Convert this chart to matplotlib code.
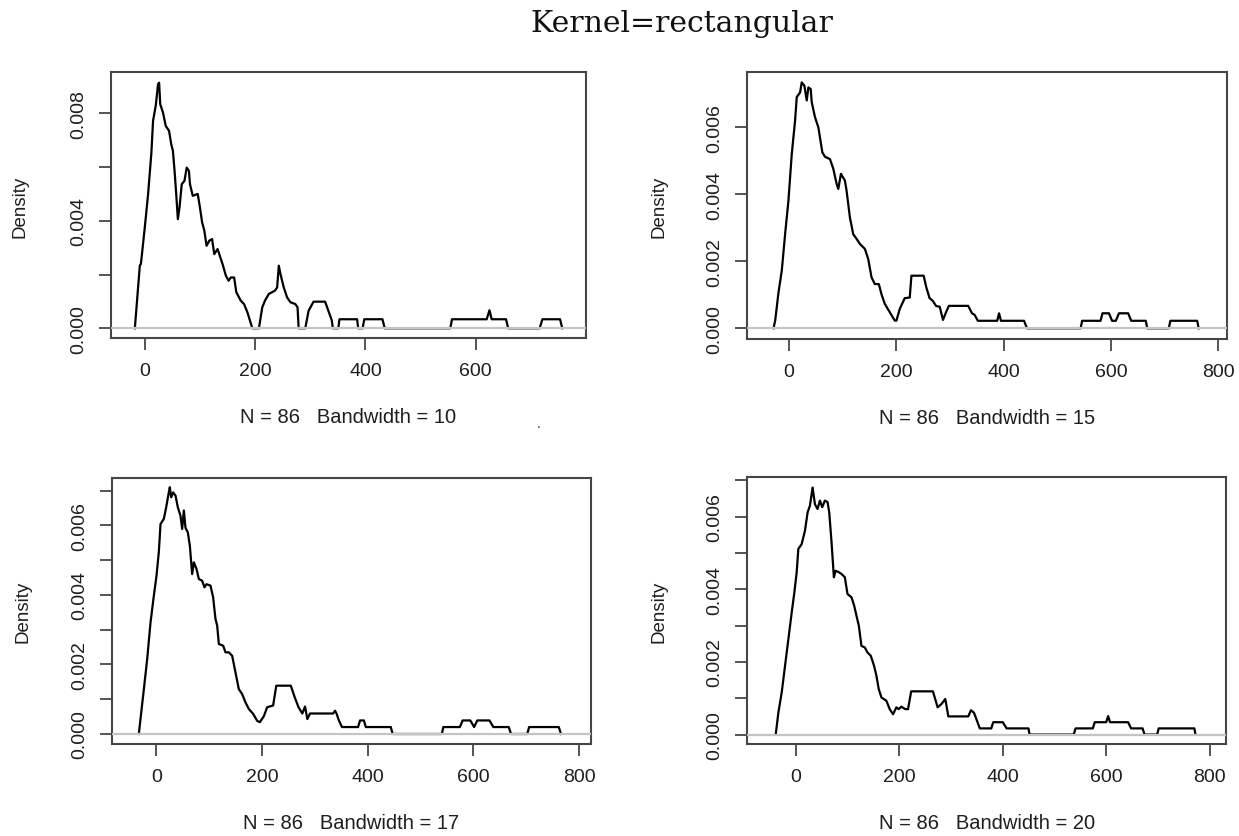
import matplotlib
matplotlib.use('Agg')
import matplotlib.pyplot as plt
import numpy as np

# --- data (x, density * 1000) ---
bandwidths = [10, 15, 17, 20]
n_obs = 86

x_bw10 = [-18, -9, -7, 0, 6, 12, 15, 20, 24, 26, 28, 33, 38, 44, 48, 51, 54, 57, 60, 63,
          67, 72, 76, 80, 82, 87, 96, 100, 104, 108, 112, 117, 122, 126, 132, 136, 141, 147, 152, 156,
          162, 166, 174, 180, 186, 195, 207, 213, 218, 225, 236, 240, 243, 246, 252, 258, 264, 273, 277, 279,
          291, 297, 306, 327, 339, 341, 351, 353, 385, 387, 395, 398, 431, 435, 554, 557, 620, 625, 629, 655,
          659, 716, 721, 753, 757]
y_bw10 = [0, 2.33, 2.40, 3.75, 4.99, 6.54, 7.72, 8.30, 9.08, 9.14, 8.34, 8.03, 7.53, 7.35, 6.85, 6.60, 5.86, 5.00, 4.06, 4.50,
          5.36, 5.49, 5.98, 5.86, 5.36, 4.93, 5.00, 4.50, 3.94, 3.63, 3.07, 3.26, 3.32, 2.76, 2.95, 2.70, 2.39, 1.96, 1.77, 1.89,
          1.89, 1.34, 1.03, 0.90, 0.60, 0, 0, 0.78, 1.03, 1.28, 1.40, 1.52, 2.33, 2.02, 1.52, 1.15, 0.97, 0.90, 0.78, 0,
          0, 0.65, 0.99, 0.99, 0.30, 0, 0, 0.336, 0.336, 0, 0, 0.336, 0.336, 0, 0, 0.336, 0.336, 0.67, 0.336, 0.336,
          0, 0, 0.336, 0.336, 0]

x_bw15 = [-28.7, -25.6, -19.4, -13.3, -7.1, -0.9, 5.3, 11.5, 14.6, 20.8, 23.9, 28.8, 33.2, 36.3, 40.6, 42.5, 48.6, 54.8,
          62.3, 67.2, 76.5, 82.7, 88.9, 92.0, 96.9, 104.3, 107.4, 113.6, 119.8, 126.0, 132.2, 141.5, 147.7, 153.9,
          160.1, 167.5, 172.4, 178.6, 187.9, 197.2, 200.3, 206.5, 215.8, 225.1, 228.2, 251, 256, 262, 268, 274, 281,
          287, 292, 298, 334, 341, 346, 352, 388, 391.5, 395, 438, 443.6, 543.4, 546.3, 580.6, 584.1, 596.3, 602,
          609.1, 614.8, 632, 637.7, 664.8, 667.7, 707.7, 710.6, 760.6, 763.4]
y_bw15 = [0, 0.23, 1.07, 1.72, 2.81, 3.81, 5.20, 6.20, 6.90, 7.04, 7.34, 7.24, 6.80, 7.19, 7.14, 6.75, 6.30, 6.00,
          5.25, 5.12, 5.05, 4.76, 4.31, 4.16, 4.61, 4.41, 4.11, 3.31, 2.81, 2.67, 2.52, 2.37, 2.07, 1.52,
          1.32, 1.32, 1.02, 0.73, 0.48, 0.23, 0.23, 0.58, 0.90, 0.92, 1.57, 1.57, 1.22, 0.90, 0.82, 0.67, 0.64,
          0.25, 0.45, 0.67, 0.67, 0.45, 0.40, 0.224, 0.224, 0.448, 0.224, 0.224, 0, 0, 0.224, 0.224, 0.448, 0.448, 0.224,
          0.224, 0.448, 0.448, 0.224, 0.224, 0, 0, 0.224, 0.224, 0]

x_bw17 = [-33.1, -30, -23.6, -17.3, -11, -4.7, 0.3, 4.7, 7.9, 14.2, 18.6, 23.6, 25.5, 28.1, 31.8, 36.3, 40.7, 45.7,
          48.9, 52.1, 55.2, 59.6, 63.4, 67.8, 71, 76, 80.4, 86.7, 91.1, 94.9, 102.5, 107.5, 111.9, 115.1, 118.3,
          126.5, 130.9, 137.2, 143.5, 149.8, 156.1, 162.4, 168.7, 175, 183.2, 190.8, 195.8, 203.4, 209.7, 221, 227,
          254.5, 261.8, 269.1, 276.3, 281.4, 285.8, 290.9, 334.6, 338.2, 341, 345.5, 351.3, 381.8, 385.5, 392.8,
          396.4, 443.7, 447.3, 540.3, 543.2, 574.5, 579.6, 594.2, 601.4, 607.3, 630.5, 637.8, 666.9, 671.3, 701.9,
          705.5, 761.6, 765.9]
y_bw17 = [0, 0.43, 1.29, 2.16, 3.21, 3.98, 4.55, 5.23, 6.04, 6.19, 6.52, 6.95, 7.10, 6.81, 6.95, 6.86, 6.52, 6.28,
          5.90, 6.43, 5.93, 5.80, 5.42, 4.60, 4.94, 4.75, 4.46, 4.41, 4.22, 4.31, 4.27, 3.93, 3.31, 3.12, 2.59,
          2.54, 2.35, 2.35, 2.25, 1.77, 1.29, 1.15, 0.91, 0.72, 0.58, 0.38, 0.34, 0.51, 0.77, 0.82, 1.39,
          1.39, 1.06, 0.77, 0.59, 0.79, 0.43, 0.59, 0.59, 0.67, 0.59, 0.39, 0.20, 0.20, 0.39, 0.39,
          0.20, 0.20, 0, 0, 0.20, 0.20, 0.39, 0.39, 0.20, 0.39, 0.39, 0.20, 0.20, 0, 0,
          0.20, 0.20, 0]

x_bw20 = [-38.8, -33.6, -27.2, -20.8, -14.3, -7.9, -2.8, 1.7, 4.9, 11.3, 17.7, 22.9, 27.3, 32.5, 37, 42.1, 46.6, 51.1,
          56.2, 61.4, 64.6, 69.1, 73.6, 76.8, 83.2, 88.4, 94.8, 99.9, 107.6, 112.8, 117.3, 121.8, 126.9, 133.3, 138.5,
          144.9, 151.3, 155.8, 160.3, 165.5, 175.1, 181.5, 187.9, 194.4, 198.9, 204, 211.7, 216.9, 223, 265, 274.1,
          281.5, 288.9, 294.8, 333.3, 338.5, 344.4, 355.6, 377.8, 381.5, 400, 407.4, 449.6, 451.8, 537, 540.7, 574,
          577.7, 599.9, 603.6, 607.3, 642.1, 648, 670.2, 673.9, 698.3, 701.3, 770.2, 772.4]
y_bw20 = [0, 0.61, 1.16, 1.89, 2.63, 3.36, 3.91, 4.46, 5.11, 5.24, 5.61, 6.12, 6.30, 6.80, 6.34, 6.21, 6.44, 6.26,
          6.44, 6.40, 6.12, 5.29, 4.33, 4.51, 4.47, 4.42, 4.33, 3.87, 3.78, 3.55, 3.27, 3.00, 2.44, 2.40, 2.26,
          2.17, 1.89, 1.62, 1.25, 1.02, 0.93, 0.70, 0.56, 0.75, 0.70, 0.77, 0.70, 0.70, 1.19, 1.19, 0.75,
          0.84, 0.98, 0.50, 0.50, 0.67, 0.60, 0.17, 0.17, 0.34, 0.34, 0.17, 0.17, 0, 0, 0.17, 0.17,
          0.34, 0.34, 0.51, 0.34, 0.34, 0.17, 0.17, 0, 0, 0.17, 0.17, 0]

xs = [x_bw10, x_bw15, x_bw17, x_bw20]
ys = [y_bw10, y_bw15, y_bw17, y_bw20]

# --- layout (figure fractions, limits, ticks) ---
rects = [(0.0893, 0.5944, 0.3836, 0.3180),
         (0.6029, 0.5938, 0.3874, 0.3186),
         (0.0901, 0.1099, 0.3869, 0.3178),
         (0.6029, 0.1099, 0.3870, 0.3190)]
xlims = [(-61.9, 799.9), (-78.1, 816.1), (-84.6, 822.6), (-94.3, 832.3)]
ylims = [(-0.00038, 0.009526), (-0.000319, 0.00764), (-0.000288, 0.007365), (-0.00026, 0.00709)]
xticks = [[0, 200, 400, 600], [0, 200, 400, 600, 800], [0, 200, 400, 600, 800], [0, 200, 400, 600, 800]]
yticks = [[0, 0.002, 0.004, 0.006, 0.008],
          [0, 0.002, 0.004, 0.006],
          [0, 0.001, 0.002, 0.003, 0.004, 0.005, 0.006, 0.007],
          [0, 0.001, 0.002, 0.003, 0.004, 0.005, 0.006, 0.007]]
ylabel_every = [2, 1, 2, 2]
ylabel_x = [-0.191, -0.183, -0.185, -0.183]

plt.rcParams['font.family'] = ['Liberation Sans', 'DejaVu Sans']
text_col = '#1e1e1e'
frame_col = '#464646'

fig = plt.figure(figsize=(12.39, 8.37), dpi=100)

for i in range(4):
    ax = fig.add_axes(rects[i])
    ax.plot(xs[i], np.array(ys[i]) / 1000.0, color='black', lw=1.6, zorder=2)
    ax.axhline(0, color='#c4c4c4', lw=1.6, zorder=3)
    ax.set_xlim(*xlims[i])
    ax.set_ylim(*ylims[i])

    ax.set_xticks(xticks[i])
    ax.set_xticklabels([str(t) for t in xticks[i]])
    ax.set_yticks(yticks[i])
    ax.set_yticklabels(['%.3f' % t if k % ylabel_every[i] == 0 else ''
                        for k, t in enumerate(yticks[i])],
                       rotation=90, va='center')

    ax.tick_params(direction='out', length=8.5, width=1.3, color=frame_col,
                   labelsize=14, labelcolor=text_col, pad=8.5)
    for sp in ax.spines.values():
        sp.set_color(frame_col)
        sp.set_linewidth(1.5)

    ax.set_xlabel('N = %d   Bandwidth = %d' % (n_obs, bandwidths[i]),
                  fontsize=14.5, color=text_col, va='center')
    ax.xaxis.set_label_coords(0.5, -0.294)
    ax.set_ylabel('Density', fontsize=13.5, color=text_col, va='center')
    ax.yaxis.set_label_coords(ylabel_x[i], 0.5)

fig.text(682 / 1239, 1 - 24 / 837, 'Kernel=rectangular', family='DejaVu Serif',
         fontsize=21.5, ha='center', va='center', color='#111111')
fig.text(539 / 1239, 1 - 424 / 837, '.', fontsize=10, ha='center', va='center', color='#333333')

fig.savefig('out.png', dpi=100)
